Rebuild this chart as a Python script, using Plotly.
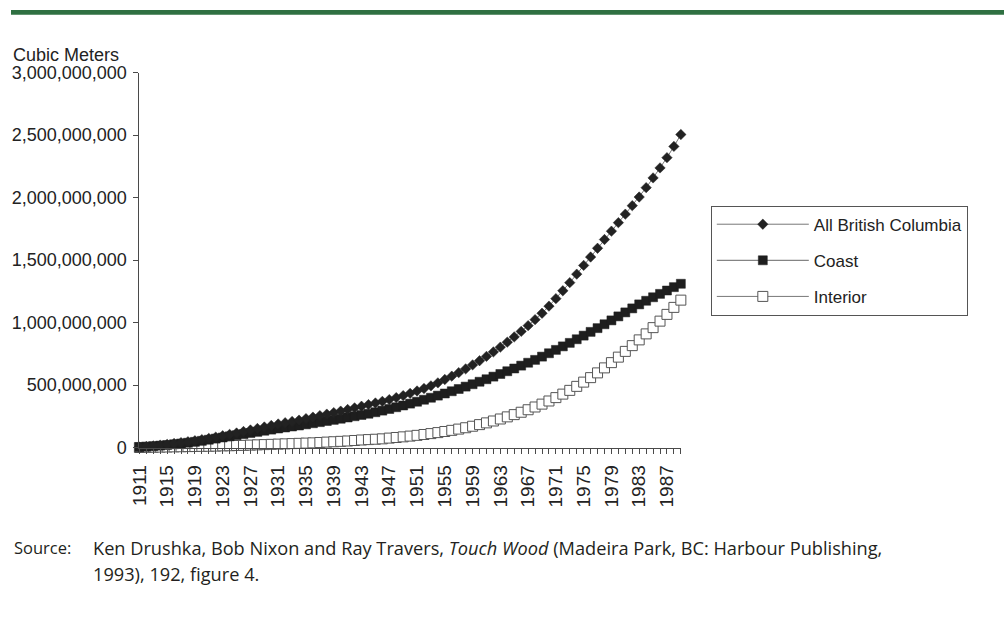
import plotly.graph_objects as go

# ---------------- data (million cubic metres, cumulative) ----------------
years = list(range(1911, 1990))

all_bc = [4, 9, 14, 20, 26, 33, 40, 47, 55, 64,
          74, 84, 95, 106, 117, 129, 141, 153, 165, 177,
          189, 199, 209, 220, 232, 244, 256, 268, 280, 292,
          305, 318, 331, 344, 357, 370, 384, 400, 416, 434,
          453, 473, 494, 518, 545, 572, 600, 630, 662, 695,
          730, 766, 804, 844, 886, 930, 976, 1024, 1075, 1132,
          1192, 1255, 1320, 1388, 1458, 1525, 1595, 1665, 1732, 1800,
          1868, 1936, 2005, 2080, 2158, 2238, 2320, 2410, 2505]

coast = [3, 7, 11, 16, 21, 27, 33, 39, 46, 54,
         63, 72, 81, 90, 99, 108, 117, 126, 135, 144,
         153, 161, 169, 177, 186, 195, 204, 213, 222, 231,
         241, 251, 261, 271, 283, 296, 309, 323, 337, 352,
         367, 383, 399, 416, 433, 451, 469, 488, 507, 527,
         547, 568, 589, 611, 633, 656, 679, 702, 728, 755,
         782, 810, 838, 867, 896, 926, 956, 987, 1018, 1050,
         1082, 1114, 1146, 1175, 1203, 1230, 1257, 1284, 1311]

interior = [1, 2, 3, 4, 5, 6, 7, 8, 9, 10,
            11, 12, 14, 15, 17, 18, 20, 22, 24, 26,
            28, 30, 32, 34, 36, 38, 41, 44, 47, 50,
            53, 57, 61, 64, 67, 70, 76, 81, 86, 92,
            98, 105, 112, 120, 129, 138, 148, 159, 171, 184,
            198, 213, 229, 246, 264, 283, 303, 325, 348, 373,
            400, 428, 458, 490, 524, 560, 598, 638, 680, 724,
            770, 816, 862, 910, 960, 1012, 1066, 1122, 1180]

series_names = ["All British Columbia", "Coast", "Interior"]

y_tickvals = [0, 500_000_000, 1_000_000_000, 1_500_000_000,
              2_000_000_000, 2_500_000_000, 3_000_000_000]
y_ticktext = ["0", "500,000,000", "1,000,000,000", "1,500,000,000",
              "2,000,000,000", "2,500,000,000", "3,000,000,000"]
x_ticktext = [str(y) if (y - 1911) % 4 == 0 else "" for y in years]

source_label = "Source:"
source_line1 = ("Ken Drushka, Bob Nixon and Ray Travers, <i>Touch Wood</i> "
                "(Madeira Park, BC: Harbour Publishing,")
source_line2 = "1993), 192, figure 4."

# ---------------- layout helpers ----------------
W, H = 1004, 621
# the photographed page shows the figure slightly inset and scaled;
# these convert target picture pixels into figure paper fractions
OX, OY, SX, SY = 9.5, 9.3, 0.99, 0.968


def fx(px):
    return ((px - OX) / SX) / W


def fy(py):
    return 1 - ((py - OY) / SY) / H


M = 1_000_000
FONT = "Liberation Sans, Arial, sans-serif"
SRC_FONT = "Open Sans, sans-serif"
TXT = "#222222"
AX = "#4a4a4a"

fig = go.Figure()

fig.add_trace(go.Scatter(
    x=years, y=[v * M for v in interior], name=series_names[2],
    mode="lines+markers", legendrank=3, legendgroup="int", cliponaxis=False,
    line=dict(color="#777777", width=1),
    marker=dict(symbol="square", size=10, color="white",
                line=dict(color="#555555", width=1)),
))
fig.add_trace(go.Scatter(
    x=years, y=[v * M for v in coast], name=series_names[1],
    mode="lines+markers", legendrank=2, legendgroup="coast", cliponaxis=False,
    line=dict(color="#666666", width=1),
    marker=dict(symbol="square", size=9, color="#1e1e1e",
                line=dict(color="#1e1e1e", width=0.5)),
))
fig.add_trace(go.Scatter(
    x=years, y=[v * M for v in all_bc], name=series_names[0],
    mode="lines+markers", legendrank=1, legendgroup="all", cliponaxis=False,
    line=dict(color="#777777", width=1),
    marker=dict(symbol="diamond", size=8, color="#222222",
                line=dict(color="#222222", width=0.5)),
))

xdom = [fx(138), fx(680)]
ydom = [fy(447), fy(72)]

fig.update_layout(
    width=W, height=H, autosize=False,
    margin=dict(l=0, r=0, t=0, b=0, pad=0),
    paper_bgcolor="white", plot_bgcolor="white",
    showlegend=True,
    legend=dict(
        x=fx(710), y=fy(205), xanchor="left", yanchor="top",
        bordercolor="#555555", borderwidth=1, bgcolor="white",
        font=dict(family=FONT, size=17, color=TXT),
        tracegroupgap=11, traceorder="grouped", itemwidth=92,
    ),
    xaxis=dict(
        domain=xdom, range=[1911, 1989],
        tickmode="array", tickvals=years, ticktext=x_ticktext,
        tickangle=-90, ticks="outside", ticklen=5, tickcolor=AX,
        showline=True, linecolor=AX, linewidth=1,
        showgrid=False, zeroline=False,
        tickfont=dict(family=FONT, size=19, color=TXT),
        ticklabelstandoff=4,
    ),
    yaxis=dict(
        domain=ydom, range=[0, 3_000_000_000],
        tickmode="array", tickvals=y_tickvals, ticktext=y_ticktext,
        ticks="outside", ticklen=5, tickcolor=AX,
        showline=True, linecolor=AX, linewidth=1,
        showgrid=False, zeroline=False,
        tickfont=dict(family=FONT, size=18, color=TXT),
        ticklabelstandoff=3,
    ),
    xaxis2=dict(
        overlaying="x", anchor="y", range=[1911, 1989],
        tickmode="array", tickvals=years, ticks="inside", ticklen=5,
        tickcolor=AX, showticklabels=False, showline=False,
        showgrid=False, zeroline=False,
    ),
    yaxis2=dict(
        overlaying="y", anchor="x", side="left", range=[0, 3_000_000_000],
        tickmode="array", tickvals=y_tickvals, ticks="inside", ticklen=5,
        tickcolor=AX, showticklabels=False, showline=False,
        showgrid=False, zeroline=False,
    ),
    shapes=[dict(type="rect", xref="paper", yref="paper",
                 x0=0, x1=1, y0=fy(14), y1=1,
                 fillcolor="#2f7042", line=dict(width=0), layer="above")],
    annotations=[
        dict(text="Cubic Meters", xref="paper", yref="paper",
             x=0, y=fy(54), xanchor="left", yanchor="middle",
             showarrow=False, font=dict(family=FONT, size=18, color=TXT)),
        dict(text=source_label, xref="paper", yref="paper",
             x=fx(13) - 2.7 / W, y=fy(547), xanchor="left", yanchor="middle",
             showarrow=False, font=dict(family=SRC_FONT, size=16.5, color="#231f20")),
        dict(text=source_line1, xref="paper", yref="paper",
             x=fx(92) - 2.7 / W, y=fy(547), xanchor="left", yanchor="middle",
             showarrow=False, font=dict(family=SRC_FONT, size=18.2, color="#231f20")),
        dict(text=source_line2, xref="paper", yref="paper",
             x=fx(92) - 2.7 / W, y=fy(573), xanchor="left", yanchor="middle",
             showarrow=False, font=dict(family=SRC_FONT, size=18.2, color="#231f20")),
    ],
)

post = (
    "var gd=document.getElementById('{plot_id}');"
    "document.documentElement.style.margin='0';"
    "document.body.style.margin='0';document.body.style.padding='0';"
    "document.body.style.overflow='hidden';"
    "document.documentElement.style.overflow='hidden';"
    "gd.style.position='fixed';gd.style.left='0px';gd.style.top='0px';"
)

fig.write_html("out.html", config={"displayModeBar": False}, post_script=post)
